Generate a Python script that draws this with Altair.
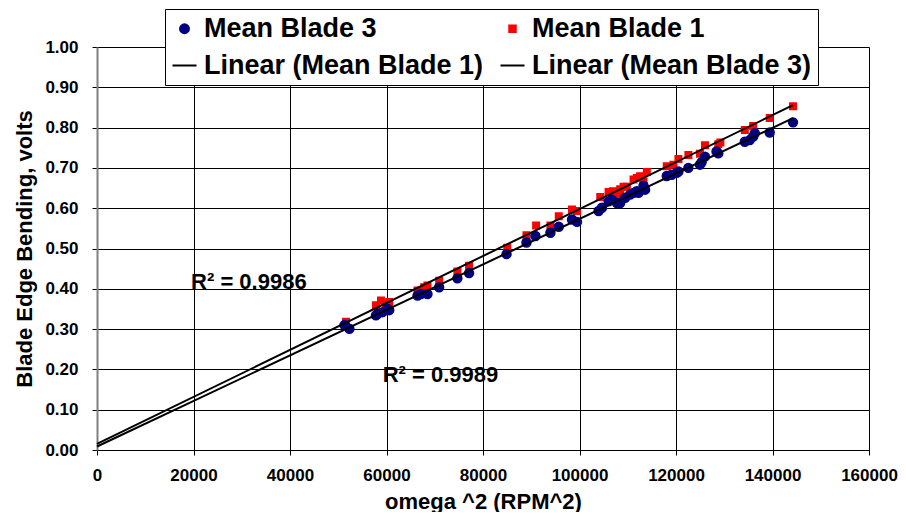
import altair as alt
import pandas as pd

# ---- data ----
blade1_x = [51610, 57810, 58850, 59880, 60570, 66430, 67810, 68490, 70910, 74690,
            77110, 85020, 89010, 91010, 93970, 95700, 98450, 99480, 104300, 106030,
            106920, 108090, 108430, 109130, 109810, 111200, 111880, 112560, 112900, 113270,
            113950, 118080, 119460, 120500, 122560, 124960, 126000, 128760, 129200, 134260,
            135990, 139420, 144250]
blade1_y = [0.318, 0.359, 0.371, 0.363, 0.367, 0.396, 0.404, 0.408, 0.420, 0.443,
            0.457, 0.502, 0.533, 0.557, 0.557, 0.580, 0.597, 0.593, 0.628, 0.640,
            0.642, 0.634, 0.647, 0.653, 0.653, 0.671, 0.675, 0.679, 0.678, 0.666,
            0.690, 0.704, 0.708, 0.722, 0.732, 0.735, 0.756, 0.759, 0.763, 0.794,
            0.804, 0.824, 0.853]

blade3_x = [51280, 52310, 57810, 58160, 59190, 60230, 60570, 66430, 67120, 68490,
            70910, 74690, 77110, 84880, 89010, 90870, 93970, 95700, 98450, 99480,
            103960, 104650, 106030, 106710, 107750, 108430, 109470, 110500, 111200, 111880,
            112230, 113270, 113600, 118080, 119110, 120140, 120500, 122560, 124960, 125310,
            126000, 128400, 128760, 134260, 135290, 135990, 136330, 139420, 144250]
blade3_y = [0.310, 0.301, 0.334, 0.338, 0.342, 0.350, 0.347, 0.383, 0.387, 0.387,
            0.404, 0.426, 0.439, 0.486, 0.515, 0.531, 0.539, 0.554, 0.572, 0.566,
            0.593, 0.601, 0.617, 0.621, 0.613, 0.613, 0.626, 0.634, 0.638, 0.642,
            0.638, 0.656, 0.646, 0.680, 0.683, 0.688, 0.691, 0.700, 0.708, 0.714,
            0.728, 0.741, 0.736, 0.765, 0.769, 0.778, 0.786, 0.788, 0.813]

series_names = ["Mean Blade 3", "Mean Blade 1", "Linear (Mean Blade 1)", "Linear (Mean Blade 3)"]
series_colors = ["#000080", "#ff0000", "#000000", "#000000"]
series_shapes = ["circle", "square", "stroke", "stroke"]
series_sizes = [80, 42, 576, 576]

r2_text = ["R\u00b2 = 0.9986", "R\u00b2 = 0.9989"]
r2_x = [19500, 59200]
r2_y = [0.416, 0.185]

x_ticks = [0, 20000, 40000, 60000, 80000, 100000, 120000, 140000, 160000]
y_ticks = [0.0, 0.1, 0.2, 0.3, 0.4, 0.5, 0.6, 0.7, 0.8, 0.9, 1.0]
fit_extent = [0, 144250]

FONT = "Liberation Sans"

pts = pd.DataFrame({
    "x": blade1_x + blade3_x,
    "y": blade1_y + blade3_y,
    "series": ["Mean Blade 1"] * len(blade1_x) + ["Mean Blade 3"] * len(blade3_x),
})
notes = pd.DataFrame({"x": r2_x, "y": r2_y, "t": r2_text})

x_enc = alt.X("x:Q", scale=alt.Scale(domain=[0, 160000], nice=False),
              axis=alt.Axis(values=x_ticks, format="d", title="omega ^2 (RPM^2)", labelFlush=False))
y_enc = alt.Y("y:Q", scale=alt.Scale(domain=[0, 1], nice=False),
              axis=alt.Axis(values=y_ticks, format=".2f", title="Blade Edge Bending, volts", labelFlush=False))

legend = alt.Legend(
    title=None, orient="none", legendX=68, legendY=-38, columns=2, direction="horizontal",
    columnPadding=12, rowPadding=9, padding=6,
    labelFont=FONT, labelFontSize=27, labelFontWeight="bold", labelColor="black",
    labelOffset=6, labelLimit=0, strokeColor="black", fillColor="white",
    symbolStrokeWidth=2, symbolOpacity=1,
)

points = alt.Chart(pts).mark_point(filled=False, opacity=1, strokeWidth=1.5).encode(
    x=x_enc, y=y_enc,
    stroke=alt.Stroke("series:N", scale=alt.Scale(type="ordinal", domain=series_names, range=series_colors), legend=legend),
    fill=alt.Fill("series:N", scale=alt.Scale(type="ordinal", domain=series_names, range=series_colors), legend=legend),
    shape=alt.Shape("series:N", scale=alt.Scale(type="ordinal", domain=series_names, range=series_shapes), legend=legend),
    size=alt.Size("series:N", scale=alt.Scale(type="ordinal", domain=series_names, range=series_sizes), legend=legend),
)

lines = alt.Chart(pts).transform_regression(
    "x", "y", groupby=["series"], extent=fit_extent
).mark_line(color="black", strokeWidth=2).encode(
    x=x_enc, y=y_enc, detail="series:N"
)

texts = alt.Chart(notes).mark_text(
    align="left", baseline="middle", font=FONT, fontSize=22, fontWeight="bold", color="black"
).encode(x=x_enc, y=y_enc, text="t:N")

chart = alt.layer(points, lines, texts).properties(
    width=772, height=403,
    padding={"left": 5, "top": 0, "right": 0, "bottom": 0},
).configure_view(stroke=None).configure_axis(
    labelFont=FONT, labelFontSize=17, labelFontWeight="bold", labelColor="black",
    titleFont=FONT, titleFontSize=22, titleFontWeight="bold", titleColor="black",
    gridColor="#000000", gridWidth=1, gridOpacity=1,
    tickColor="black", tickSize=5, domainColor="black",
).configure_axisX(
    labelPadding=12, titlePadding=8,
).configure_axisY(
    labelPadding=14, titlePadding=8, domainColor="#808080", domainWidth=2,
)

chart.save("out.html", embed_options={"renderer": "svg", "actions": False})
